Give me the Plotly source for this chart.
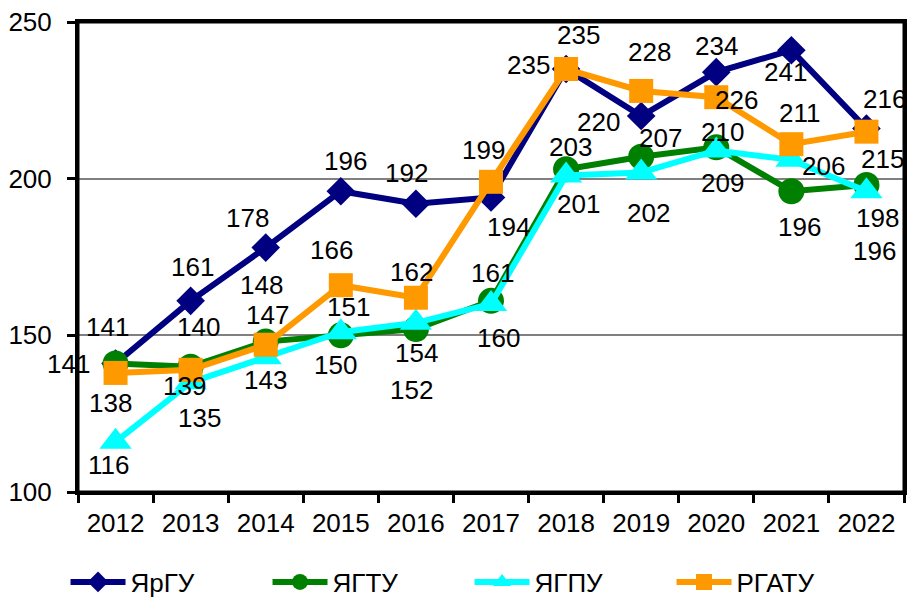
import plotly.graph_objects as go

years = [2012, 2013, 2014, 2015, 2016, 2017, 2018, 2019, 2020, 2021, 2022]
year_labels = ["2012", "2013", "2014", "2015", "2016", "2017", "2018", "2019", "2020", "2021", "2022"]
yrgu = [141, 161, 178, 196, 192, 194, 235, 220, 234, 241, 216]
ygtu = [141, 140, 148, 150, 152, 161, 203, 207, 210, 196, 198]
ygpu = [116, 135, 143, 151, 154, 160, 201, 202, 209, 206, 196]
rgatu = [138, 139, 147, 166, 162, 199, 235, 228, 226, 211, 215]

names = ["ЯрГУ", "ЯГТУ", "ЯГПУ", "РГАТУ"]
colors = ["#000080", "#008000", "#00FFFF", "#FF9900"]
symbols = ["diamond", "circle", "triangle-up", "square"]
msizes = [22, 26, 28, 24]

# label offsets in pixels (dx, dy with dy positive = down)
off_yrgu = [(-47, 0), (2, -34), (-18, -30), (5, -30), (-9, -31), (17, 30), (-38, -4), (-43, 6), (0, -26), (-6, 22), (18, -30)]
off_ygtu = [(-8, -37), (8, -40), (-4, -57), (-5, 30), (-4, 61), (1, -28), (4, -22), (19, -19), (6, -15), (8, 36), (11, 33)]
off_ygpu = [(-7, 23), (9, 36), (0, 23), (8, -25), (1, 30), (7, 34), (12, 28), (7, 41), (6, 33), (32, 6), (8, 60)]
off_rgatu = [(-5, 30), (-6, 16), (2, -30), (-9, -35), (-4, -26), (-8, -32), (12, -34), (8, -39), (20, 3), (8, -31), (16, 27)]

series = [yrgu, ygtu, ygpu, rgatu]
offsets = [off_yrgu, off_ygtu, off_ygpu, off_rgatu]

FONT = "Liberation Sans, Arial, sans-serif"
FS = 26

fig = go.Figure()
for vals, name, col, sym, ms in zip(series, names, colors, symbols, msizes):
    fig.add_trace(go.Scatter(
        x=years, y=vals, name=name, mode="lines+markers",
        line=dict(color=col, width=6),
        marker=dict(symbol=sym, size=ms, color=col),
        cliponaxis=False,
    ))

annotations = []
for vals, offs in zip(series, offsets):
    for yr, v, (dx, dy) in zip(years, vals, offs):
        annotations.append(dict(
            x=yr, y=v, xref="x", yref="y", text=str(v), showarrow=False,
            xshift=dx, yshift=-dy, font=dict(family=FONT, size=FS, color="black"),
        ))

boundaries = [y - 0.5 for y in years] + [years[-1] + 0.5]

fig.update_layout(
    width=910, height=600,
    margin=dict(l=78, r=6, t=22, b=108),
    paper_bgcolor="white", plot_bgcolor="white",
    font=dict(family=FONT, size=FS, color="black"),
    showlegend=True,
    legend=dict(orientation="h", xref="container", x=0.072, xanchor="left",
                yref="container", y=0.03, yanchor="middle",
                entrywidth=132, entrywidthmode="pixels", itemwidth=55,
                font=dict(family=FONT, size=FS), bgcolor="rgba(0,0,0,0)"),
    annotations=annotations,
    shapes=[dict(type="rect", xref="x domain", yref="y domain", x0=0, x1=1, y0=0, y1=1,
                 line=dict(color="black", width=3), layer="above")],
)
fig.update_xaxes(range=[years[0] - 0.5, years[-1] + 0.5], tickvals=years, ticktext=year_labels,
                 showline=True, linecolor="black", linewidth=3, mirror=True, automargin=False,
                 ticks="", showgrid=False, zeroline=False, ticklabelstandoff=6,
                 ticklabeloverflow="allow",
                 minor=dict(tickvals=boundaries, ticks="outside", ticklen=8, tickwidth=3,
                            tickcolor="black", showgrid=False),
                 tickfont=dict(family=FONT, size=FS))
fig.update_yaxes(range=[100, 250], tickvals=[100, 150, 200, 250], showline=True, linecolor="black",
                 linewidth=3, mirror=True, ticks="outside", ticklen=8, tickwidth=3, tickcolor="black",
                 showgrid=True, gridcolor="#808080", gridwidth=1.5, zeroline=False, automargin=False,
                 ticklabelstandoff=10, ticklabeloverflow="allow", tickfont=dict(family=FONT, size=FS))

fig.write_html("out.html", config={"displayModeBar": False},
               post_script="document.body.style.margin='0';document.body.style.overflow='hidden';")
